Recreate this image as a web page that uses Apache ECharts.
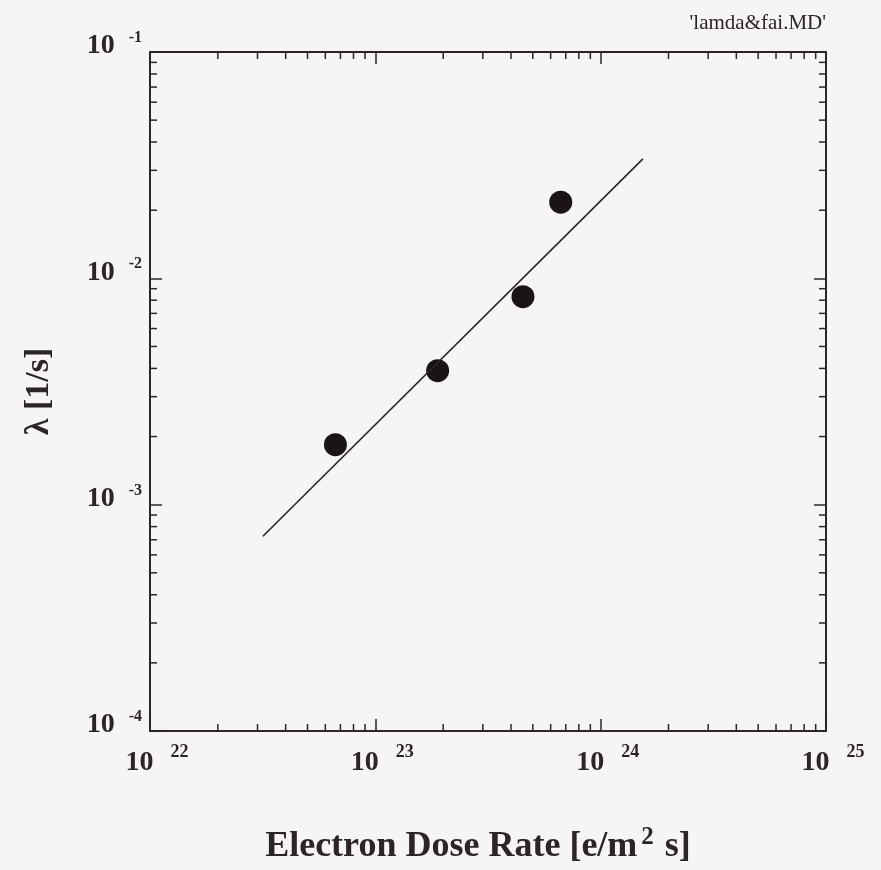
<!DOCTYPE html>
<html>
<head>
<meta charset="utf-8">
<script src="https://cdn.jsdelivr.net/npm/echarts@6/dist/echarts.min.js"></script>
<style>
  html, body { margin: 0; padding: 0; background: #f7f4f5; }
  #chart { width: 881px; height: 870px; }
</style>
</head>
<body>
<div id="chart"></div>
<script>
// measured points (lambda vs electron dose rate)
var doseRate = [6.65e22, 1.89e23, 4.52e23, 6.65e23];
var lambda = [1.84e-3, 3.91e-3, 8.3e-3, 2.17e-2];
// fitted line end points
var fitX = [3.17e22, 1.54e24];
var fitY = [7.25e-4, 3.37e-2];
// axis ranges (decades)
var xExp = [22, 23, 24, 25];
var yExp = [-4, -3, -2, -1];

var ink = '#2b2528';
var serif = '"Liberation Serif", "DejaVu Serif", serif';
var xMin = Math.pow(10, xExp[0]), xMax = Math.pow(10, xExp[xExp.length - 1]);
var yMin = Math.pow(10, yExp[0]), yMax = Math.pow(10, yExp[yExp.length - 1]);

function expLabel(v) {
  var e = Math.round(Math.log10(v));
  return '{b|10}{s|' + e + '}';
}

// minor tick values 2..9 in each decade
var xMinor = [], yMinor = [];
xExp.slice(0, -1).forEach(function (e) {
  for (var k = 2; k <= 9; k++) xMinor.push([k * Math.pow(10, e), yMin]);
});
yExp.slice(0, -1).forEach(function (e) {
  for (var k = 2; k <= 9; k++) yMinor.push([xMin, k * Math.pow(10, e)]);
});

var chart = echarts.init(document.getElementById('chart'));

var axisCommon = {
  type: 'log',
  logBase: 10,
  interval: 1,
  splitLine: { show: false },
  axisLine: { lineStyle: { color: ink, width: 2 } },
  axisTick: { inside: true, length: 12, lineStyle: { color: ink, width: 1.5 } }
};

chart.setOption({
  backgroundColor: '#f7f4f5',
  animation: false,
  title: {
    text: "'lamda&fai.MD'",
    right: 50,
    top: 8,
    textStyle: { fontFamily: serif, fontSize: 21, fontWeight: 'normal', color: ink }
  },
  grid: { left: 150, right: 55, top: 52, bottom: 137 },
  xAxis: [
    Object.assign({}, axisCommon, {
      min: xMin, max: xMax,
      name: '{n|Electron Dose Rate [e/m}{p|2}{n| s]}',
      nameLocation: 'middle',
      nameGap: 94,
      nameTextStyle: {
        padding: [0, 20, 0, 0],
        rich: {
          n: { fontFamily: serif, fontSize: 36, fontWeight: 'bold', color: ink, verticalAlign: 'bottom', lineHeight: 40 },
          p: { fontFamily: serif, fontSize: 25, fontWeight: 'bold', color: ink, verticalAlign: 'top', lineHeight: 25, padding: [0, 2, 0, 4] }
        }
      },
      axisLabel: {
        margin: 12,
        padding: [0, 0, 0, 14],
        formatter: expLabel,
        rich: {
          b: { fontFamily: serif, fontSize: 28, fontWeight: 'bold', color: ink, verticalAlign: 'bottom', lineHeight: 34 },
          s: { fontFamily: serif, fontSize: 18, fontWeight: 'bold', color: ink, verticalAlign: 'top', lineHeight: 18, padding: [0, 0, 0, 17] }
        }
      }
    }),
    Object.assign({}, axisCommon, {
      min: xMin, max: xMax, position: 'top',
      axisLabel: { show: false }
    })
  ],
  yAxis: [
    Object.assign({}, axisCommon, {
      min: yMin, max: yMax,
      name: 'λ [1/s]',
      nameLocation: 'middle',
      nameGap: 94,
      nameTextStyle: { fontFamily: serif, fontSize: 34, fontWeight: 'bold', color: ink },
      axisLabel: {
        margin: 8,
        padding: [0, 0, 16, 0],
        formatter: expLabel,
        rich: {
          b: { fontFamily: serif, fontSize: 28, fontWeight: 'bold', color: ink, verticalAlign: 'bottom', lineHeight: 32 },
          s: { fontFamily: serif, fontSize: 16, fontWeight: 'bold', color: ink, verticalAlign: 'top', lineHeight: 16, padding: [2, 0, 0, 14] }
        }
      }
    }),
    Object.assign({}, axisCommon, {
      min: yMin, max: yMax, position: 'right',
      axisLabel: { show: false }
    })
  ],
  series: [
    {
      type: 'line',
      data: fitX.map(function (x, i) { return [x, fitY[i]]; }),
      symbol: 'none',
      lineStyle: { color: ink, width: 1.6 },
      silent: true
    },
    {
      type: 'scatter',
      data: doseRate.map(function (x, i) { return [x, lambda[i]]; }),
      symbolSize: 23,
      itemStyle: { color: '#1a1417', opacity: 1 },
      silent: true
    },
    {
      // minor ticks on bottom and top
      type: 'custom',
      silent: true,
      clip: false,
      data: xMinor,
      renderItem: function (params, api) {
        var v = api.value(0);
        var b = api.coord([v, yMin]);
        var t = api.coord([v, yMax]);
        return {
          type: 'group',
          children: [
            { type: 'line', shape: { x1: b[0], y1: b[1], x2: b[0], y2: b[1] - 7 }, style: { stroke: ink, lineWidth: 1.5 } },
            { type: 'line', shape: { x1: t[0], y1: t[1], x2: t[0], y2: t[1] + 7 }, style: { stroke: ink, lineWidth: 1.5 } }
          ]
        };
      }
    },
    {
      // minor ticks on left and right
      type: 'custom',
      silent: true,
      clip: false,
      data: yMinor,
      renderItem: function (params, api) {
        var v = api.value(1);
        var l = api.coord([xMin, v]);
        var r = api.coord([xMax, v]);
        return {
          type: 'group',
          children: [
            { type: 'line', shape: { x1: l[0], y1: l[1], x2: l[0] + 7, y2: l[1] }, style: { stroke: ink, lineWidth: 1.5 } },
            { type: 'line', shape: { x1: r[0], y1: r[1], x2: r[0] - 7, y2: r[1] }, style: { stroke: ink, lineWidth: 1.5 } }
          ]
        };
      }
    }
  ]
});
</script>
</body>
</html>
